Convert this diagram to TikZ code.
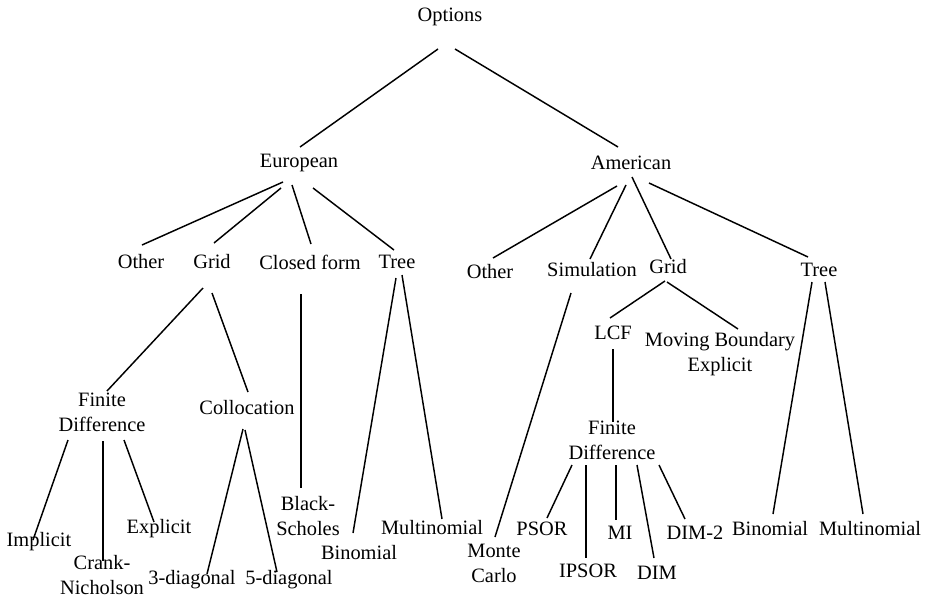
\documentclass[tikz,border=0pt]{standalone}
\usepackage{fontspec}
\setmainfont{Liberation Serif}
\usepackage{tikz}
\usetikzlibrary{calc}
\tikzset{every picture/.style={line width=1.1pt}}
\tikzset{lbl/.style={inner sep=0.75pt, align=center, font=\fontsize{15.3}{18.75}\selectfont}}

\begin{document}
\begin{tikzpicture}[x=0.75pt,y=0.75pt,yscale=-1,xscale=1]
\useasboundingbox (0,0) rectangle (928,600);
% top
\node [lbl] (opt) at (450,17) {Options};
\node [lbl] (eur) at (299,163) {European};
\node [lbl] (ame) at (631,163) {American};
% european side
\node [lbl] (eoth) at (141,262) {Other};
\node [lbl] (egrid) at (212,262) {Grid};
\node [lbl] (ecf) at (310,262) {Closed form};
\node [lbl] (etree) at (397,262) {Tree};
\node [lbl] (efd) at (102,412) {Finite\\Difference};
\node [lbl] (coll) at (247,408) {Collocation};
\node [lbl] (impl) at (39,542) {Implicit};
\node [lbl] (crank) at (102,575) {Crank-\\Nicholson};
\node [lbl] (expl) at (159,529) {Explicit};
\node [lbl] (diag3) at (192,580) {3-diagonal};
\node [lbl] (diag5) at (289,580) {5-diagonal};
\node [lbl] (bs) at (308,516) {Black-\\Scholes};
\node [lbl] (ebin) at (359,553) {Binomial};
\node [lbl] (emult) at (432,528) {Multinomial};
% american side
\node [lbl] (aoth) at (490,272) {Other};
\node [lbl] (asim) at (592,270) {Simulation};
\node [lbl] (agrid) at (668,267) {Grid};
\node [lbl] (atree) at (819,270) {Tree};
\node [lbl] (lcf) at (613,333) {LCF};
\node [lbl] (mbe) at (720,354) {Moving Boundary\\Explicit};
\node [lbl] (afd) at (612,440) {Finite\\Difference};
\node [lbl] (mc) at (494,563) {Monte\\Carlo};
\node [lbl] (psor) at (542,529) {PSOR};
\node [lbl] (ipsor) at (588,571) {IPSOR};
\node [lbl] (mi) at (620,533) {MI};
\node [lbl] (dim) at (657,573) {DIM};
\node [lbl] (dim2) at (695,533) {DIM-2};
\node [lbl] (abin) at (770,529) {Binomial};
\node [lbl] (amult) at (870,529) {Multinomial};
% branches
\draw ($(opt)+(-12,32)$) -- ($(eur)+(1,-16)$);
\draw ($(opt)+(5,32)$) -- ($(ame)+(-13,-16)$);
\draw ($(eur)+(-16,19)$) -- ($(eoth)+(1,-17)$);
\draw ($(eur)+(-18,25)$) -- ($(egrid)+(2,-19)$);
\draw ($(eur)+(-7,22)$) -- ($(ecf)+(1,-18)$);
\draw ($(eur)+(14,25)$) -- ($(etree)+(-3,-12)$);
\draw ($(egrid)+(-9,26)$) -- ($(efd)+(5,-21)$);
\draw ($(egrid)+(0,31)$) -- ($(coll)+(1,-16)$);
\draw ($(ecf)+(-9,32)$) -- ($(bs)+(-7,-28)$);
\draw ($(etree)+(-1,16)$) -- ($(ebin)+(-6,-20)$);
\draw ($(etree)+(5,13)$) -- ($(emult)+(10,-9)$);
\draw ($(efd)+(-34,28)$) -- ($(impl)+(-6,-2)$);
\draw ($(efd)+(1,29)$) -- ($(crank)+(1,-14)$);
\draw ($(efd)+(22,28)$) -- ($(expl)+(-5,-7)$);
\draw ($(coll)+(-4,21)$) -- ($(diag3)+(15,-6)$);
\draw ($(coll)+(-2,22)$) -- ($(diag5)+(-12,-8)$);
\draw ($(ame)+(-14,23)$) -- ($(aoth)+(3,-14)$);
\draw ($(ame)+(-5,22)$) -- ($(asim)+(-2,-11)$);
\draw ($(ame)+(1,14)$) -- ($(agrid)+(3,-8)$);
\draw ($(ame)+(18,20)$) -- ($(atree)+(-11,-13)$);
\draw ($(agrid)+(-3,14)$) -- ($(lcf)+(-3,-15)$);
\draw ($(agrid)+(-1,15)$) -- ($(mbe)+(18,-25)$);
\draw ($(lcf)+(0,16)$) -- ($(afd)+(1,-18)$);
\draw ($(asim)+(-21,23)$) -- ($(mc)+(1,-26)$);
\draw ($(atree)+(-7,12)$) -- ($(abin)+(3,-15)$);
\draw ($(atree)+(6,12)$) -- ($(amult)+(-7,-15)$);
\draw ($(afd)+(-40,25)$) -- ($(psor)+(5,-11)$);
\draw ($(afd)+(-26,25)$) -- ($(ipsor)+(-2,-13)$);
\draw ($(afd)+(4,25)$) -- ($(mi)+(-4,-13)$);
\draw ($(afd)+(25,25)$) -- ($(dim)+(-3,-15)$);
\draw ($(afd)+(47,25)$) -- ($(dim2)+(-10,-14)$);
\end{tikzpicture}
\end{document}
